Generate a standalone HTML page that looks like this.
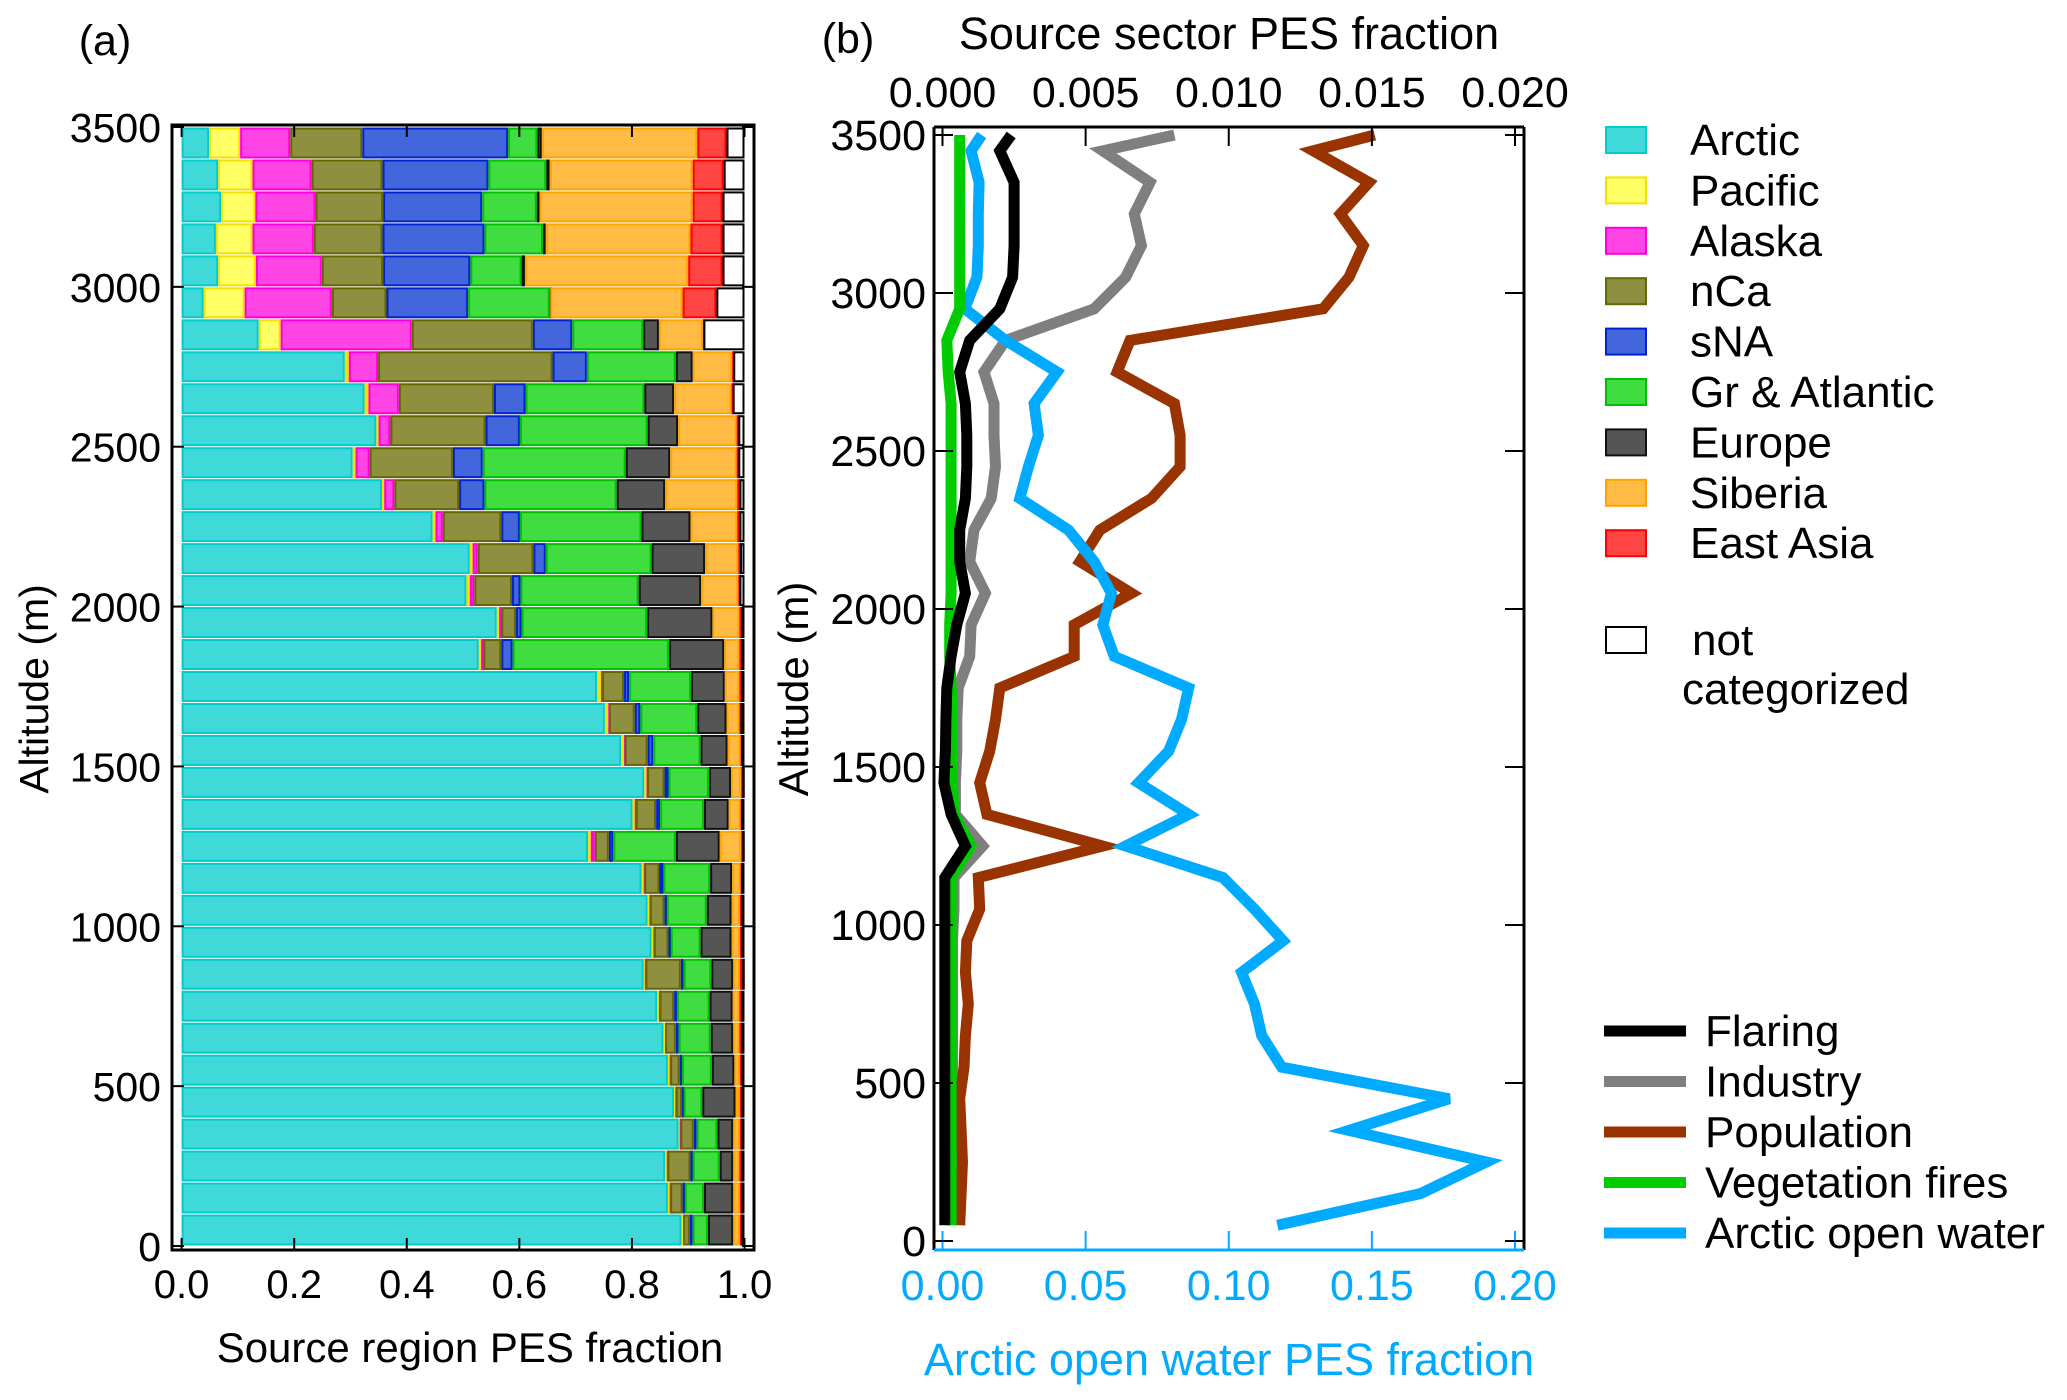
<!DOCTYPE html>
<html><head><meta charset="utf-8"><style>
html,body{margin:0;padding:0;background:#fff;}
svg{display:block;font-family:"Liberation Sans",Arial,sans-serif;}
</style></head><body>
<svg id="chart" width="2067" height="1400" viewBox="0 0 2067 1400" xmlns="http://www.w3.org/2000/svg">
<g id="pa"></g>
<g id="pb"></g>
<g id="lg"></g>
</svg>
<script>
// ---- Panel (a) data: fraction per 100 m layer, from 0 m (index 0) to 3400 m ----
const layerBottoms = [0,100,200,300,400,500,600,700,800,900,1000,1100,1200,1300,1400,1500,1600,1700,1800,1900,2000,2100,2200,2300,2400,2500,2600,2700,2800,2900,3000,3100,3200,3300,3400];
const arctic  = [.888,.864,.859,.883,.875,.864,.856,.845,.821,.835,.828,.817,.722,.801,.822,.781,.752,.738,.528,.560,.506,.512,.446,.356,.304,.346,.325,.290,.137,.039,.065,.061,.070,.065,.049];
const pacific = [.003,.003,.003,.002,.002,.003,.003,.003,.002,.003,.003,.004,.005,.004,.004,.005,.006,.007,.004,.004,.006,.005,.005,.004,.005,.004,.007,.007,.039,.073,.067,.065,.061,.061,.055];
const alaska  = [.000,.001,.001,.001,.001,.001,.000,.001,.001,.001,.001,.001,.007,.002,.001,.001,.001,.002,.004,.004,.008,.009,.013,.018,.025,.021,.054,.052,.233,.155,.117,.109,.107,.105,.089];
const nCa     = [.012,.022,.041,.024,.011,.017,.019,.026,.063,.026,.026,.027,.025,.036,.031,.041,.046,.039,.032,.026,.067,.099,.104,.115,.148,.169,.169,.310,.215,.097,.109,.122,.120,.126,.128];
const sNA     = [.005,.004,.004,.005,.003,.004,.005,.005,.005,.004,.004,.007,.008,.007,.007,.010,.010,.009,.020,.010,.015,.022,.033,.045,.053,.061,.056,.061,.070,.145,.155,.181,.176,.188,.259];
const grAtl   = [.027,.034,.048,.037,.033,.053,.057,.058,.049,.053,.071,.083,.111,.078,.072,.084,.101,.110,.278,.223,.210,.188,.216,.235,.254,.227,.211,.158,.126,.145,.091,.104,.097,.103,.052];
const europe  = [.045,.052,.024,.028,.059,.040,.040,.041,.039,.055,.044,.039,.078,.044,.039,.048,.052,.060,.098,.116,.111,.095,.087,.086,.079,.054,.053,.030,.028,.001,.006,.005,.005,.006,.008];
const siberia = [.012,.012,.011,.012,.008,.010,.011,.012,.012,.015,.015,.015,.038,.021,.018,.023,.023,.026,.027,.048,.066,.059,.083,.128,.118,.104,.102,.070,.078,.235,.290,.257,.272,.254,.276];
const eastAsia= [.002,.002,.003,.002,.002,.002,.003,.003,.004,.002,.002,.001,.002,.001,.002,.001,.002,.003,.003,.003,.002,.003,.004,.004,.003,.003,.002,.002,.001,.060,.061,.057,.053,.055,.052];
const regionNames = ["Arctic","Pacific","Alaska","nCa","sNA","Gr & Atlantic","Europe","Siberia","East Asia"];
const aTicksX = [0,0.2,0.4,0.6,0.8,1.0];
const aTickLabelsX = ["0.0","0.2","0.4","0.6","0.8","1.0"];
const altTicks = [0,500,1000,1500,2000,2500,3000,3500];

// ---- Panel (b) data ----
const altitudes = [50,150,250,350,450,550,650,750,850,950,1050,1150,1250,1350,1450,1550,1650,1750,1850,1950,2050,2150,2250,2350,2450,2550,2650,2750,2850,2950,3050,3150,3250,3350,3450,3500];
const flaring    = [.00008,.00008,.00008,.00008,.00008,.00008,.00008,.00008,.00008,.00008,.00008,.00008,.0008,.0003,.00005,.0001,.00012,.00015,.0003,.0005,.0008,.0006,.0006,.0008,.00085,.00085,.0008,.0006,.00095,.002,.00245,.0025,.0025,.0025,.002,.0024];
const industry   = [.00035,.00035,.00035,.00035,.00035,.00035,.00035,.00035,.00035,.00035,.0004,.0004,.0014,.00045,.00045,.0005,.0005,.00055,.00095,.001,.0015,.00095,.0011,.0017,.00185,.0018,.0018,.00145,.0022,.0053,.0064,.00695,.0067,.00725,.0056,.0081];
const population = [.0006,.00065,.0007,.00065,.0006,.00075,.0008,.0009,.0008,.00085,.0013,.00125,.0056,.00155,.0013,.00165,.00185,.002,.0046,.0046,.0066,.0048,.0055,.0073,.0083,.0083,.0081,.0061,.00655,.0133,.0142,.0147,.0139,.0149,.01295,.0151];
const vegFires   = [.0003,.0003,.0003,.0003,.0003,.0003,.0003,.0003,.0003,.0003,.0003,.0003,.001,.0004,.00035,.00035,.00035,.0003,.00025,.00025,.0003,.0003,.0003,.0003,.0003,.0003,.0003,.0002,.00015,.0006,.0006,.0006,.0006,.0006,.0006,.0006];
const openWater  = [.117,.167,.190,.142,.177,.1185,.1115,.109,.1045,.119,.109,.098,.064,.086,.0685,.079,.0835,.086,.060,.056,.059,.053,.044,.027,.030,.0335,.032,.040,.022,.0078,.012,.0125,.0125,.0128,.010,.0137];
const bTopTicks = [0,0.005,0.010,0.015,0.020];
const bTopLabels = ["0.000","0.005","0.010","0.015","0.020"];
const bBotTicks = [0,0.05,0.10,0.15,0.20];
const bBotLabels = ["0.00","0.05","0.10","0.15","0.20"];

const NS="http://www.w3.org/2000/svg";
function mk(tag, attrs, parent){const e=document.createElementNS(NS,tag);for(const k in attrs)e.setAttribute(k,attrs[k]);parent.appendChild(e);return e;}
function txt(s, attrs, parent){const e=mk("text",attrs,parent);e.textContent=s;return e;}

// ---------- Panel a ----------
const pa=document.getElementById("pa");
const aX=v=>181.6+v*(744.5-181.6);
const aY=alt=>1246-alt*(1246-127)/3500;
const fills=["#40d9d9","#ffff66","#ff44e6","#8f8f40","#4466dd","#40dd40","#555555","#ffbb44","#ff4444"];
const strokes=["#00cccc","#f5e000","#ff00dd","#666600","#0022cc","#00c000","#111111","#ffa500","#ff0000"];
const series=[arctic,pacific,alaska,nCa,sNA,grAtl,europe,siberia,eastAsia];
const segKeys=["arctic","pacific","alaska","nca","sna","gr-atlantic","europe","siberia","east-asia"];
for(let i=0;i<layerBottoms.length;i++){
  const y0=aY(layerBottoms[i]+100), y1=aY(layerBottoms[i]);
  let cum=0;
  for(let s=0;s<series.length;s++){
    const v=series[s][i];
    const r=mk("rect",{x:aX(cum)+1,y:y0+1.5,width:Math.max(aX(cum+v)-aX(cum)-2,0.5),height:y1-y0-3,fill:fills[s],stroke:strokes[s],"stroke-width":2},pa);
    
    
    cum+=v;
  }
  if(cum<0.999){
    const r=mk("rect",{x:aX(cum)+1,y:y0+1.5,width:Math.max(aX(1)-aX(cum)-2,0.5),height:y1-y0-3,fill:"#fff",stroke:"#000","stroke-width":2},pa);
    
    
  }
}
const fa=mk("rect",{x:172,y:125,width:582,height:1125,fill:"none",stroke:"#000","stroke-width":3},pa);


aTicksX.forEach((t,i)=>{
  mk("line",{x1:aX(t),x2:aX(t),y1:1250,y2:1238,stroke:"#000","stroke-width":2},pa);
  mk("line",{x1:aX(t),x2:aX(t),y1:125,y2:137,stroke:"#000","stroke-width":2},pa);
  const l=txt(aTickLabelsX[i],{x:aX(t),y:1298,"font-size":40,"text-anchor":"middle"},pa);
  
  
});
altTicks.forEach(t=>{
  mk("line",{x1:172,x2:184,y1:aY(t),y2:aY(t),stroke:"#000","stroke-width":2},pa);
  mk("line",{x1:754,x2:742,y1:aY(t),y2:aY(t),stroke:"#000","stroke-width":2},pa);
  const l=txt(String(t),{x:161,y:aY(t)+15,"font-size":41,"text-anchor":"end"},pa);
  
  
});
let e;
e=txt("Source region PES fraction",{x:470,y:1362,"font-size":42,"text-anchor":"middle"},pa);


e=txt("Altitude (m)",{x:0,y:0,"font-size":41,"text-anchor":"middle",transform:"translate(48,689) rotate(-90)"},pa);


e=txt("(a)",{x:105,y:55,"font-size":43,"text-anchor":"middle"},pa);



// ---------- Panel b ----------
const pb=document.getElementById("pb");
const bXtop=v=>942.5+v/0.020*(1515-942.5);
const bXbot=v=>942.5+v/0.20*(1515-942.5);
const bY=alt=>1241-alt*(1241-135)/3500;
function drawLine(vals, xf, color, name){
  const d=vals.map((v,i)=>(i?"L":"M")+xf(v).toFixed(1)+","+bY(altitudes[i]).toFixed(1)).join(" ");
  const p=mk("path",{d:d,fill:"none",stroke:color,"stroke-width":11,"stroke-linejoin":"miter","stroke-miterlimit":4},pb);
  
  
}
drawLine(industry,bXtop,"#7f7f7f","line-industry");
drawLine(population,bXtop,"#993300","line-population");
drawLine(openWater,bXbot,"#00aaff","line-arctic-open-water");
drawLine(vegFires,bXtop,"#00cc00","line-vegetation-fires");
drawLine(flaring,bXtop,"#000000","line-flaring");
mk("line",{x1:934,x2:934,y1:127,y2:1250,stroke:"#000","stroke-width":3},pb);
mk("line",{x1:1524,x2:1524,y1:127,y2:1250,stroke:"#000","stroke-width":3},pb);
mk("line",{x1:934,x2:1524,y1:127,y2:127,stroke:"#000","stroke-width":3},pb);
mk("line",{x1:934,x2:1524,y1:1250,y2:1250,stroke:"#00aaff","stroke-width":3},pb);
bTopTicks.forEach((t,i)=>{
  mk("line",{x1:bXtop(t),x2:bXtop(t),y1:127,y2:146,stroke:"#000","stroke-width":2},pb);
  const l=txt(bTopLabels[i],{x:bXtop(t),y:107,"font-size":43,"text-anchor":"middle"},pb);
  
  
});
bBotTicks.forEach((t,i)=>{
  mk("line",{x1:bXbot(t),x2:bXbot(t),y1:1250,y2:1231,stroke:"#00aaff","stroke-width":2},pb);
  const l=txt(bBotLabels[i],{x:bXbot(t),y:1300,"font-size":43,"text-anchor":"middle",fill:"#00aaff"},pb);
  
  
});
altTicks.forEach(t=>{
  mk("line",{x1:934,x2:953,y1:bY(t),y2:bY(t),stroke:"#000","stroke-width":2},pb);
  mk("line",{x1:1524,x2:1505,y1:bY(t),y2:bY(t),stroke:"#000","stroke-width":2},pb);
  const l=txt(String(t),{x:926,y:bY(t)+15,"font-size":43,"text-anchor":"end"},pb);
  
  
});
e=txt("Source sector PES fraction",{x:1229,y:49,"font-size":45,"text-anchor":"middle"},pb);


e=txt("Arctic open water PES fraction",{x:1229,y:1375,"font-size":45,"text-anchor":"middle",fill:"#00aaff"},pb);


e=txt("Altitude (m)",{x:0,y:0,"font-size":42,"text-anchor":"middle",transform:"translate(808,689) rotate(-90)"},pb);


e=txt("(b)",{x:848,y:53,"font-size":43,"text-anchor":"middle"},pb);



// ---------- Legends ----------
const lg=document.getElementById("lg");
regionNames.forEach((n,i)=>{
  const cy=140+i*50.4;
  const r=mk("rect",{x:1606,y:cy-13,width:40,height:26,fill:fills[i],stroke:strokes[i],"stroke-width":2},lg);
  
  
  const t=txt(n,{x:1690,y:cy+15,"font-size":44},lg);
  
  
});
e=mk("rect",{x:1606,y:627,width:40,height:26,fill:"#fff",stroke:"#000","stroke-width":2},lg);


e=txt("not",{x:1692,y:655,"font-size":44},lg);


e=txt("categorized",{x:1682,y:704,"font-size":44},lg);


const lineLeg=[["Flaring","#000000"],["Industry","#7f7f7f"],["Population","#993300"],["Vegetation fires","#00cc00"],["Arctic open water","#00aaff"]];
const lineKeys=["flaring","industry","population","vegetation-fires","arctic-open-water"];
lineLeg.forEach((l,i)=>{
  const cy=1031+i*50.5;
  const ln=mk("line",{x1:1604,x2:1686,y1:cy,y2:cy,stroke:l[1],"stroke-width":11},lg);
  
  
  const t=txt(l[0],{x:1705,y:cy+15,"font-size":44},lg);
  
  
});
</script>
</body></html>
